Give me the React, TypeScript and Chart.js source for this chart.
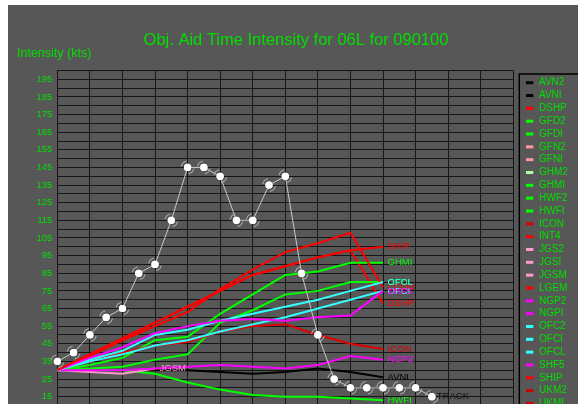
import React, { useEffect, useRef } from 'react';
import { Chart, registerables } from 'chart.js';

Chart.register(...registerables);

// Forecast hours for the objective aids (every 12 h) and the best track (every 6 h)
const modelHours = [0, 12, 24, 36, 48, 60, 72, 84, 96, 108, 120];
const trackHours = [0, 6, 12, 18, 24, 30, 36, 42, 48, 54, 60, 66, 72, 78, 84, 90, 96, 102, 108, 114, 120, 126, 132, 138];
const trackKts = [35, 40, 50, 60, 65, 85, 90, 115, 145, 145, 140, 115, 115, 135, 140, 85, 50, 25, 20, 20, 20, 20, 20, 15];

// Intensity forecasts (kts)
const avniKts = [30, 30, 30, 30, 30, 29, 28, 29, 31, 29, 26];
const dshpKts = [30, 39, 48, 57, 66, 75, 84, 89, 94, 98, 68];
const gfdiKts = [30, 31, 32, 36, 39, 57, 64, 73, 75, 80, 80];
const ghmiKts = [30, 33, 37, 47, 49, 62, 73, 84, 86, 91, 91];
const hwfiKts = [30, 30, 30, 28, 23, 19, 16, 15, 15, 14, 13];
const iconKts = [30, 35, 40, 44, 46, 52, 55, 56, 50, 45, 42];
const jgsmKts = [30, 29, 28, 31];
const lgemKts = [30, 38, 47, 55, 63, 76, 87, 97, 102, 108, 77];
const ngp2Kts = [30, 30, 30, 31, 32, 33, 32, 31, 33, 38, 36];
const ofciKts = [30, 35, 39, 44, 47, 52, 56, 60, 65, 70, 75];
const ofclKts = [30, 36, 41, 50, 53, 58, 62, 66, 70, 75, 80];
const shf5Kts = [30, 37, 43, 51, 55, 58, 59, 58, 60, 61, 75];
const shipKts = [30, 39, 48, 57, 66, 75, 84, 89, 94, 98, 100];

// Aid names, in legend order, and their colours
const aidNames = [
  'AVN2', 'AVNI', 'DSHP', 'GFD2', 'GFDI', 'GFN2', 'GFNI', 'GHM2', 'GHMI', 'HWF2', 'HWFI', 'ICON', 'INT4',
  'JGS2', 'JGSI', 'JGSM', 'LGEM', 'NGP2', 'NGPI', 'OFC2', 'OFCI', 'OFCL', 'SHF5', 'SHIP', 'UKM2', 'UKMI',
];
const aidColors = [
  '#000000', '#000000', '#ff0000', '#00ff00', '#00ff00', '#ff9999', '#ff9999', '#aaffaa', '#00ff00', '#00ff00',
  '#00ff00', '#e00000', '#ff0000', '#ff99cc', '#ff99cc', '#ff99cc', '#ff0000', '#ff00ff', '#ff00ff', '#33ffff',
  '#33ffff', '#33ffff', '#ff00ff', '#ff0000', '#cc0000', '#cc0000',
];
const aidValues: Record<string, number[]> = {
  AVNI: avniKts, DSHP: dshpKts, GFDI: gfdiKts, GHMI: ghmiKts, HWFI: hwfiKts, ICON: iconKts, JGSM: jgsmKts,
  LGEM: lgemKts, NGP2: ngp2Kts, OFCI: ofciKts, OFCL: ofclKts, SHF5: shf5Kts, SHIP: shipKts,
};

const titleText = 'Obj. Aid Time Intensity for 06L for 090100';
const yTitleText = 'Intensity (kts)';
const trackLabel = 'TRACK';

const PANEL = '#575757';
const TEXT_GREEN = '#00e000';
const GRID = '#161616';
const FONT = '"Liberation Sans", Arial, sans-serif';

const CANVAS_W = 570;
const CANVAS_H = 440;

const decorPlugin = {
  id: 'decor',
  beforeDraw(chart: any) {
    const { ctx } = chart;
    ctx.save();
    ctx.fillStyle = PANEL;
    ctx.fillRect(0, 0, chart.width, chart.height);
    ctx.fillStyle = TEXT_GREEN;
    ctx.textBaseline = 'alphabetic';
    ctx.textAlign = 'center';
    ctx.font = `16.5px ${FONT}`;
    ctx.fillText(titleText, 288, 40);
    ctx.textAlign = 'left';
    ctx.font = `12.5px ${FONT}`;
    ctx.fillText(yTitleText, 9, 52.3);
    ctx.restore();
  },
  afterDatasetsDraw(chart: any) {
    const { ctx } = chart;
    ctx.save();

    // hurricane symbol tails on the best-track points
    const trackMeta = chart.getDatasetMeta(0);
    ctx.strokeStyle = '#b4b4b4';
    ctx.lineWidth = 1;
    trackMeta.data.forEach((pt: any) => {
      ctx.beginPath();
      ctx.arc(pt.x, pt.y, 6.5, Math.PI * 1.05, Math.PI * 1.45);
      ctx.stroke();
      ctx.beginPath();
      ctx.arc(pt.x, pt.y, 6.5, Math.PI * 0.05, Math.PI * 0.45);
      ctx.stroke();
    });
    // redraw the white dots above the tails
    ctx.fillStyle = '#ffffff';
    trackMeta.data.forEach((pt: any) => {
      ctx.beginPath();
      ctx.arc(pt.x, pt.y, 3.6, 0, Math.PI * 2);
      ctx.fill();
    });

    // end-of-forecast labels
    ctx.font = `9.5px ${FONT}`;
    ctx.textAlign = 'left';
    ctx.textBaseline = 'middle';
    chart.data.datasets.forEach((ds: any, i: number) => {
      if (i === 0 || !ds.data.length) return;
      const meta = chart.getDatasetMeta(i);
      const last = meta.data[meta.data.length - 1];
      ctx.fillStyle = ds.borderColor;
      ctx.fillText(ds.label, last.x + 4.5, last.y);
    });
    const lastTrack = trackMeta.data[trackMeta.data.length - 1];
    ctx.fillStyle = '#101010';
    ctx.fillText(trackLabel, lastTrack.x + 5, lastTrack.y);

    // legend box
    const lx = 511.3;
    const ly = 69;
    ctx.strokeStyle = '#000000';
    ctx.lineWidth = 1.5;
    ctx.strokeRect(lx, ly, 90, 400);
    ctx.font = `10px ${FONT}`;
    aidNames.forEach((name, i) => {
      const y = 77.7 + i * 12.83;
      ctx.fillStyle = aidColors[i];
      ctx.fillRect(lx + 6.7, y - 1.5, 7.3, 3);
      ctx.fillStyle = TEXT_GREEN;
      ctx.fillText(name, lx + 19.7, y);
    });
    ctx.restore();
  },
};

export default function App() {
  const canvasRef = useRef<HTMLCanvasElement | null>(null);

  useEffect(() => {
    document.documentElement.style.overflow = 'hidden';
    document.body.style.overflow = 'hidden';
    const canvas = canvasRef.current;
    if (!canvas) return;

    const trackDataset = {
      label: trackLabel,
      data: trackHours.map((h, i) => ({ x: h, y: trackKts[i] })),
      borderColor: '#c8c8c8',
      borderWidth: 1,
      pointRadius: 3.6,
      pointBackgroundColor: '#ffffff',
      pointBorderColor: '#ffffff',
      pointBorderWidth: 0,
      order: 0,
    };

    const aidDatasets = aidNames.map((name, idx) => {
      const kts = aidValues[name] || [];
      return {
        label: name,
        data: kts.map((v, i) => ({ x: modelHours[i], y: v })),
        borderColor: aidColors[idx],
        backgroundColor: aidColors[idx],
        borderWidth: 2,
        pointRadius: 0,
        tension: 0,
        order: 100 - idx,
      };
    });

    const chart = new Chart(canvas, {
      type: 'line',
      data: { datasets: [trackDataset, ...aidDatasets] as any },
      options: {
        animation: false,
        responsive: false,
        events: [],
        layout: { padding: { left: 0, top: 65.5, right: CANVAS_W - 505.3, bottom: 0 } },
        plugins: {
          legend: { display: false },
          title: { display: false },
          tooltip: { enabled: false },
        },
        scales: {
          x: {
            type: 'linear',
            min: 0,
            max: 168,
            ticks: { display: false, stepSize: 12 },
            grid: { color: GRID, lineWidth: 1, drawTicks: false },
            border: { color: GRID },
            afterFit(scale: any) {
              scale.height = CANVAS_H - 418.1 - 65.5 + 65.5;
            },
          },
          y: {
            type: 'linear',
            min: 0,
            max: 200,
            ticks: {
              stepSize: 5,
              autoSkip: false,
              padding: 5,
              color: TEXT_GREEN,
              font: { family: FONT, size: 9.5 },
              callback: (v: any) => (Number(v) % 10 === 5 ? String(v) : ''),
            },
            grid: { color: GRID, lineWidth: 1, drawTicks: false },
            border: { color: GRID },
            afterFit(scale: any) {
              scale.width = 49.3;
            },
          },
        },
      },
      plugins: [decorPlugin],
    });

    return () => chart.destroy();
  }, []);

  return (
    <div style={{ position: 'fixed', left: 8, top: 5, width: CANVAS_W, height: CANVAS_H, background: PANEL }}>
      <canvas ref={canvasRef} width={CANVAS_W} height={CANVAS_H} style={{ width: CANVAS_W, height: CANVAS_H, display: 'block' }} />
    </div>
  );
}
